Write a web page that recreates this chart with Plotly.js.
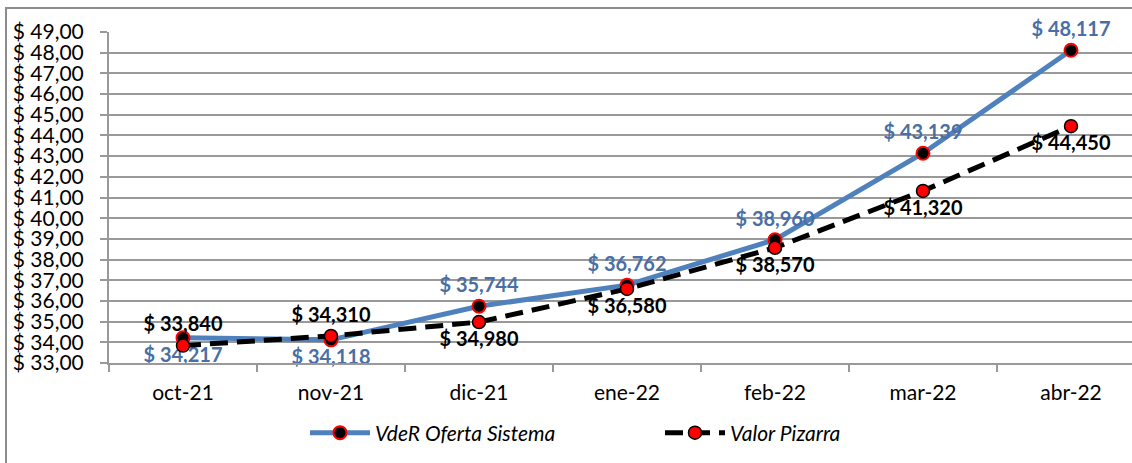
<!DOCTYPE html>
<html>
<head>
<meta charset="utf-8">
<script src="https://cdn.plot.ly/plotly-3.0.1.min.js"></script>
<style>html,body{margin:0;padding:0;background:#fff;}#chart{width:1132px;height:463px;}</style>
</head>
<body>
<div id="chart"></div>
<script>
const categories = ["oct-21","nov-21","dic-21","ene-22","feb-22","mar-22","abr-22"];
const vdeR = [34.217, 34.118, 35.744, 36.762, 38.960, 43.139, 48.117];
const pizarra = [33.840, 34.310, 34.980, 36.580, 38.570, 41.320, 44.450];
const yTicks = [33,34,35,36,37,38,39,40,41,42,43,44,45,46,47,48,49];
const seriesNames = ["VdeR Oferta Sistema", "Valor Pizarra"];

const fmtLabel = v => "$ " + v.toFixed(3).replace(".", ",");
const fmtTick = v => "$ " + v.toFixed(2).replace(".", ",");

const vdeRPos = ["bottom center","bottom center","top center","top center","top center","top center","top center"];
const pizPos = ["top center","top center","bottom center","bottom center","bottom center","bottom center","bottom center"];

const FONT = "Lato, 'Open Sans', sans-serif";

const traces = [
  {
    x: categories, y: vdeR, name: seriesNames[0], type: "scatter", mode: "lines+markers+text",
    line: {color: "#4F81BD", width: 5},
    marker: {color: "#000000", size: 13, line: {color: "#FF0000", width: 2}},
    text: vdeR.map(fmtLabel), textposition: vdeRPos,
    textfont: {family: FONT, size: 20, color: "#4A6FA5", weight: "bold"},
    cliponaxis: false
  },
  {
    x: categories, y: pizarra, name: seriesNames[1], type: "scatter", mode: "lines+markers+text",
    line: {color: "#000000", width: 5, dash: "18px,9px"},
    marker: {color: "#FF0000", size: 13, line: {color: "#000000", width: 1.5}},
    text: pizarra.map(fmtLabel), textposition: pizPos,
    textfont: {family: FONT, size: 20, color: "#000000", weight: "bold"},
    cliponaxis: false
  }
];

const L = 109, W = 1132, plotW = W - L, T = 32, B = 363, plotH = B - T;
const catW = 148;

const layout = {
  width: 1132, height: 463,
  margin: {l: L, r: 0, t: T, b: 463 - B},
  paper_bgcolor: "#ffffff", plot_bgcolor: "#ffffff",
  font: {family: FONT, size: 20, color: "#000"},
  showlegend: true,
  legend: {
    orientation: "h", x: (305 - L) / plotW, xanchor: "left",
    y: (B - 433) / plotH, yanchor: "middle",
    font: {family: FONT, size: 21, style: "italic", color: "#000"},
    itemwidth: 60, entrywidth: 280, entrywidthmode: "pixels",
    bgcolor: "rgba(0,0,0,0)"
  },
  xaxis: {
    type: "category",
    range: [-0.5, -0.5 + plotW / catW],
    showgrid: false, zeroline: false,
    showline: true, linecolor: "#999999", linewidth: 2,
    ticks: "outside", tickson: "boundaries", ticklen: 7, tickcolor: "#999999", tickwidth: 2,
    ticklabelstandoff: 10,
    tickfont: {family: FONT, size: 21, color: "#000"}
  },
  yaxis: {
    range: [33, 49], tickvals: yTicks, ticktext: yTicks.map(fmtTick),
    showgrid: true, gridcolor: "#999999", gridwidth: 2,
    zeroline: false,
    showline: true, linecolor: "#999999", linewidth: 2,
    ticks: "outside", ticklen: 7, tickcolor: "#999999", tickwidth: 2,
    ticklabelstandoff: 12,
    tickfont: {family: FONT, size: 21, color: "#000"}
  },
  shapes: [{
    type: "rect", xref: "paper", yref: "paper", layer: "below",
    x0: (6 - L) / plotW, x1: (1140 - L) / plotW,
    y0: (B - 470) / plotH, y1: (B - 8) / plotH,
    line: {color: "#8c8c8c", width: 2}, fillcolor: "rgba(0,0,0,0)"
  }]
};

Plotly.newPlot("chart", traces, layout, {displayModeBar: false, staticPlot: true});
</script>
</body>
</html>
